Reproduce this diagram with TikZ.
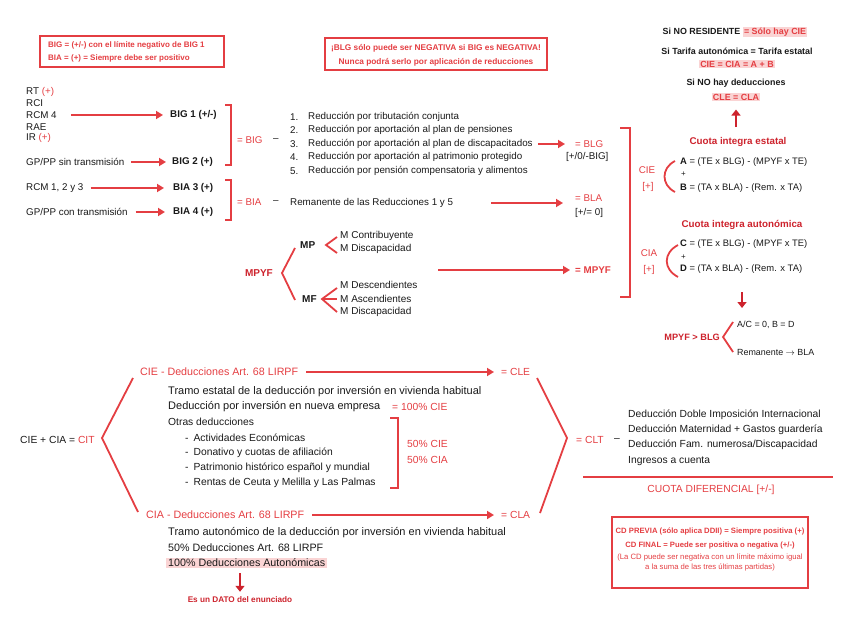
\documentclass[tikz,border=0pt]{standalone}
\usepackage{fontspec}
\setmainfont{Liberation Sans}
\usetikzlibrary{arrows.meta}
\definecolor{myred}{RGB}{228,62,66}
\definecolor{mydred}{RGB}{205,35,45}
\definecolor{mypink}{RGB}{250,212,212}
\definecolor{mytxt}{RGB}{25,25,25}
\newcommand\fN{\fontsize{9.8}{11}\selectfont}
\newcommand\fM{\fontsize{9.4}{10.5}\selectfont}
\newcommand\fMM{\fontsize{10}{11}\selectfont}
\newcommand\fB{\fontsize{10.3}{12}\selectfont}
\newcommand\fBL{\fontsize{11}{12}\selectfont}
\newcommand\fBM{\fontsize{10.7}{12}\selectfont}
\newcommand\fS{\fontsize{8}{9}\selectfont}
\newcommand\fSM{\fontsize{8.3}{9}\selectfont}
\newcommand\fT{\fontsize{7.7}{8.5}\selectfont}
\newcommand\fR{\fontsize{8.9}{10}\selectfont}
\newcommand\hlt[1]{{\setlength{\fboxsep}{1.2pt}\colorbox{mypink}{#1}}}
\begin{document}
\begin{tikzpicture}[x=1pt,y=-1pt,
  txt/.style={anchor=west,inner sep=0pt,text=mytxt,font=\fN},
  txtb/.style={anchor=west,inner sep=0pt,text=mytxt,font=\fN\bfseries},
  boxt/.style={anchor=west,inner sep=0pt,text=myred,font=\fS\bfseries},
  bt/.style={anchor=center,inner sep=0pt,text=mytxt,font=\fR\bfseries},
  ttl/.style={anchor=center,inner sep=0pt,text=mydred,font=\fontsize{9.8}{11}\selectfont\bfseries},
  btxt/.style={anchor=west,inner sep=0pt,text=mytxt,font=\fB},
  rtxt/.style={anchor=west,inner sep=0pt,text=myred,font=\fB},
  arr/.style={draw=myred,line width=1.8pt,-{Triangle[length=7pt,width=8pt]}},
  arrv/.style={draw=mydred,line width=2.4pt,-{Triangle[length=6pt,width=9pt]}},
  br/.style={draw=myred,line width=1.8pt},
  boxl/.style={draw=myred,line width=1.1pt}]
\useasboundingbox (0,0) rectangle (848,636);

% top-left box
\node[boxt] (bx1a) at (48,45) {BIG = (+/-) con el límite negativo de BIG 1};
\node[boxt] (bx1b) at (48,58) {BIA = (+) = Siempre debe ser positivo};
\draw[boxl] (40,36) rectangle (224,67);

% middle box
\node[boxt,anchor=center,font=\fSM\bfseries] (bx2a) at (436,48) {¡BLG sólo puede ser NEGATIVA si BIG es NEGATIVA!};
\node[boxt,anchor=center,font=\fSM\bfseries] (bx2b) at (436,62) {Nunca podrá serlo por aplicación de reducciones};
\draw[boxl] (325,38) rectangle (547,70);

% left list
\node[txt] (rt) at (26,92) {RT \textcolor{myred}{(+)}};
\node[txt] (rci) at (26,103) {RCI};
\node[txt] (rcm4) at (26,115) {RCM 4};
\node[txt] (rae) at (26,127) {RAE};
\node[txt] (ir) at (26,138) {IR \textcolor{myred}{(+)}};
\node[txt] (gpsin) at (26,162) {GP/PP sin transmisión};
\node[txt] (rcm123) at (26,188) {RCM 1, 2 y 3};
\node[txt] (gpcon) at (26,212) {GP/PP con transmisión};
\node[txtb] (big1) at (170,115) {BIG 1 (+/-)};
\node[txtb] (big2) at (172,162) {BIG 2 (+)};
\node[txtb] (bia3) at (173,188) {BIA 3 (+)};
\node[txtb] (bia4) at (173,212) {BIA 4 (+)};
\draw[arr] ([xshift=14pt]rcm4.east) -- ([xshift=-7pt]big1.west);
\draw[arr] ([xshift=7pt]gpsin.east) -- ([xshift=-6pt]big2.west);
\draw[arr] ([xshift=7pt]rcm123.east) -- ([xshift=-9pt]bia3.west);
\draw[arr] ([xshift=8pt]gpcon.east) -- ([xshift=-8pt]bia4.west);

\draw[br] (225,105) -- (231,105) -- (231,165) -- (225,165);
\draw[br] (225,180) -- (231,180) -- (231,220) -- (225,220);
\node[txt,text=myred] (eqbig) at (237,140) {= BIG};
\node[txt] (dbig) at (273,140) {–};
\node[txt,text=myred] (eqbia) at (237,202) {= BIA};
\node[txt] (dbia) at (273,202) {–};

% reductions
\node[txt] (num1) at (290,117) {1.};
\node[txt] (num2) at (290,130) {2.};
\node[txt] (num3) at (290,144) {3.};
\node[txt] (num4) at (290,157) {4.};
\node[txt] (num5) at (290,171) {5.};
\node[txt] (r1) at (308,117) {Reducción por tributación conjunta};
\node[txt] (r2) at (308,130) {Reducción por aportación al plan de pensiones};
\node[txt] (r3) at (308,144) {Reducción por aportación al plan de discapacitados};
\node[txt] (r4) at (308,157) {Reducción por aportación al patrimonio protegido};
\node[txt] (r5) at (308,171) {Reducción por pensión compensatoria y alimentos};
\node[txt,text=myred] (blg) at (575,144) {= BLG};
\node[txt] (blgr) at (566,157) {[+/0/-BIG]};
\draw[arr] ([xshift=5pt]r3.east) -- ([xshift=-10pt]blg.west);

\node[txt] (rem) at (290,203) {Remanente de las Reducciones 1 y 5};
\node[txt,text=myred] (bla) at (575,198) {= BLA};
\node[txt] (blar) at (575,213) {[+/= 0]};
\draw[arr] ([xshift=38pt]rem.east) -- ([xshift=-12pt]rem.east -| bla.west);

% MPYF
\node[txtb,text=mydred,anchor=east,font=\fMM\bfseries] (mpyf) at (273,273) {MPYF};
\draw[br] (295,248) -- (282,273) -- (295,300);
\node[txtb,font=\fMM\bfseries] (mp) at (300,245) {MP};
\node[txtb,font=\fMM\bfseries] (mf) at (302,299) {MF};
\draw[br] (337,237) -- (326,245) -- (337,253);
\draw[br] (337,288) -- (322,299) -- (337,312);
\draw[br] (322,299) -- (337,299);
\node[txt,font=\fMM] (mc) at (340,236) {M Contribuyente};
\node[txt,font=\fMM] (md1) at (340,249) {M Discapacidad};
\node[txt,font=\fMM] (mdes) at (340,285) {M Descendientes};
\node[txt,font=\fMM] (masc) at (340,299) {M Ascendientes};
\node[txt,font=\fMM] (md2) at (340,312) {M Discapacidad};
\node[txtb,text=myred] (eqmpyf) at (575,270) {= MPYF};
\coordinate (mpA) at (438,270);
\draw[arr] (mpA) -- ([xshift=-5pt]eqmpyf.west);

\draw[br] (620,128) -- (630,128) -- (630,297) -- (620,297);

% top right
\node[bt] (nores) at (735,32) {Si NO RESIDENTE \hlt{\textcolor{myred}{= Sólo hay CIE}}};
\node[bt] (tarifa) at (737,51) {Si Tarifa autonómica = Tarifa estatal};
\node[bt] (ciecia) at (737,64) {\hlt{\textcolor{myred}{CIE = CIA = A + B}}};
\node[bt] (nodeduc) at (736,83) {Si NO hay deducciones};
\node[bt] (clecla) at (736,97) {\hlt{\textcolor{myred}{CLE = CLA}}};
\node[ttl] (cuotae) at (738,142) {Cuota integra estatal};
\draw[arrv] ([yshift=10pt]cuotae.north -| clecla.south) -- ([yshift=-8pt]clecla.south);

\node[txt,font=\fM] (fa) at (680,162) {\textbf{A} = (TE x BLG) - (MPYF x TE)};
\node[txt,font=\fS] (fap) at (681,174) {+};
\node[txt,font=\fM] (fb) at (680,188) {\textbf{B} = (TA x BLA) - (Rem. x TA)};
\node[txt,text=myred,anchor=center] (cie) at (647,170) {CIE};
\node[txt,text=myred,anchor=center] (ciep) at (648,187) {[+]};
\draw[br] (675,161) .. controls (661,168) and (661,185) .. (675,192);

\node[ttl] (cuotaa) at (742,225) {Cuota integra autonómica};
\node[txt,font=\fM] (fc) at (680,244) {\textbf{C} = (TE x BLG) - (MPYF x TE)};
\node[txt,font=\fS] (fcp) at (681,257) {+};
\node[txt,font=\fM] (fd) at (680,269) {\textbf{D} = (TA x BLA) - (Rem. x TA)};
\node[txt,text=myred,anchor=center] (cia) at (649,253) {CIA};
\node[txt,text=myred,anchor=center] (ciap) at (649,270) {[+]};
\draw[br] (678,245) .. controls (663,253) and (663,269) .. (678,277);

\coordinate (dA) at (742,292);
\coordinate (dB) at (742,308);
\draw[arrv] (dA) -- (dB);
\node[txtb,text=mydred,anchor=east,font=\fontsize{9.2}{10}\selectfont\bfseries] (mpblg) at (720,337) {MPYF > BLG};
\draw[br] (733,322) -- (723,337) -- (733,352);
\node[txt,font=\fR] (acb) at (737,325) {A/C = 0, B = D};
\node[txt,font=\fR] (remb) at (737,352) {Remanente $\rightarrow$ BLA};

% bottom
\node[btxt] (cit) at (20,440) {CIE + CIA = \textcolor{myred}{CIT}};
\draw[br] (133,378) -- (102,438) -- (138,512);
\node[rtxt,font=\fBM] (cieh) at (140,372) {CIE - Deducciones Art. 68 LIRPF};
\node[rtxt] (cle) at (501,372) {= CLE};
\draw[arr] ([xshift=8pt]cieh.east) -- ([xshift=-7pt]cle.west);
\node[btxt,font=\fBL] (e1) at (168,392) {Tramo estatal de la deducción por inversión en vivienda habitual};
\node[btxt,font=\fBL] (e2) at (168,407) {Deducción por inversión en nueva empresa};
\node[rtxt] (e2r) at (392,407) {= 100\% CIE};
\node[btxt] (e3) at (168,422) {Otras deducciones};
\node[btxt] (e4) at (185,438) {-\hspace{5pt}Actividades Económicas};
\node[btxt] (e5) at (185,453) {-\hspace{5pt}Donativo y cuotas de afiliación};
\node[btxt] (e6) at (185,468) {-\hspace{5pt}Patrimonio histórico español y mundial};
\node[btxt] (e7) at (185,483) {-\hspace{5pt}Rentas de Ceuta y Melilla y Las Palmas};
\draw[br] (390,418) -- (398,418) -- (398,488) -- (390,488);
\node[rtxt] (p50a) at (407,444) {50\% CIE};
\node[rtxt] (p50b) at (407,460) {50\% CIA};

\node[rtxt,font=\fBM] (ciah) at (146,515) {CIA - Deducciones Art. 68 LIRPF};
\node[rtxt] (cla) at (501,515) {= CLA};
\draw[arr] ([xshift=8pt]ciah.east) -- ([xshift=-7pt]cla.west);
\node[btxt,font=\fBL] (a1) at (168,533) {Tramo autonómico de la deducción por inversión en vivienda habitual};
\node[btxt,font=\fBM] (a2) at (168,548) {50\% Deducciones Art. 68 LIRPF};
\node[btxt,font=\fBM,fill=mypink,inner xsep=2pt,inner ysep=1pt,xshift=-2pt] (a3) at (168,563) {100\% Deducciones Autonómicas};
\node[boxt,anchor=center,text=mydred,font=\fontsize{8.2}{9}\selectfont\bfseries] (dato) at (240,600) {Es un DATO del enunciado};
\draw[arrv] (dato.north |- a3.south) ++(0,5) -- ([yshift=5pt]dato.north);

\draw[br] (537,378) -- (567,438) -- (540,513);
\node[rtxt] (clt) at (576,440) {= CLT};
\node[btxt] (dclt) at (614,440) {–};
\node[btxt] (d1) at (628,415) {Deducción Doble Imposición Internacional};
\node[btxt] (d2) at (628,430) {Deducción Maternidad + Gastos guardería};
\node[btxt] (d3) at (628,445) {Deducción Fam. numerosa/Discapacidad};
\node[btxt] (d4) at (628,461) {Ingresos a cuenta};
\draw[br] (583,477) -- (833,477);
\node[rtxt,anchor=center] (cdif) at (711,490) {CUOTA DIFERENCIAL [+/-]};

\draw[boxl] (612,517) rectangle (808,588);
\node[boxt,anchor=center,font=\fT\bfseries] (cd1) at (710,531) {CD PREVIA (sólo aplica DDII) = Siempre positiva (+)};
\node[boxt,anchor=center,font=\fT\bfseries] (cd2) at (710,546) {CD FINAL = Puede ser positiva o negativa (+/-)};
\node[boxt,anchor=center,font=\fT] (cd3) at (710,557) {(La CD puede ser negativa con un límite máximo igual};
\node[boxt,anchor=center,font=\fT] (cd4) at (710,567) {a la suma de las tres últimas partidas)};
\end{tikzpicture}
\end{document}
